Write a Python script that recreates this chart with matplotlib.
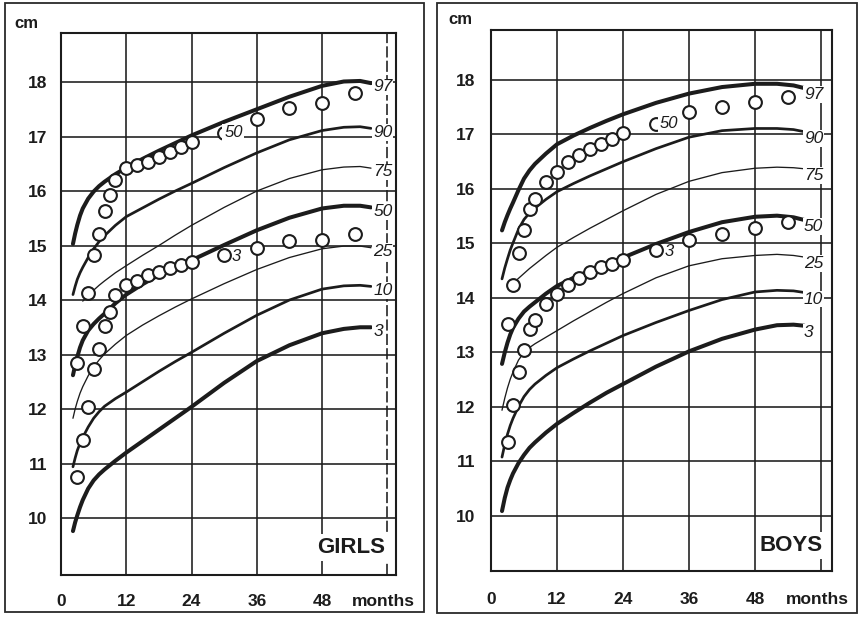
import numpy as np
import matplotlib
matplotlib.use("Agg")
import matplotlib.pyplot as plt
from matplotlib.patches import Rectangle

plt.rcParams['font.family'] = ['Liberation Sans', 'DejaVu Sans']

# ---------------- data ----------------
percentiles = ["97", "90", "75", "50", "25", "10", "3"]
nan = np.nan

girls_curve_months = [2.2, 2.6, 3, 3.5, 4, 5, 6, 7, 8, 10, 12, 15, 18, 21, 24, 30, 36, 42, 48, 52, 55, 57]
girls_p97 = [15.03, 15.22, 15.38, 15.55, 15.68, 15.86, 15.99, 16.09, 16.17, 16.31, 16.43, 16.59, 16.74, 16.88, 17.02, 17.27, 17.50, 17.73, 17.93, 18.01, 18.02, 17.98]
girls_p90 = [14.10, 14.25, 14.38, 14.50, 14.60, 14.78, 14.94, 15.07, 15.18, 15.37, 15.53, 15.69, 15.85, 16.00, 16.14, 16.43, 16.70, 16.94, 17.11, 17.17, 17.18, 17.15]
girls_p75 = [nan, nan, nan, nan, 13.98, 14.08, 14.18, 14.27, 14.35, 14.50, 14.63, 14.82, 15.00, 15.19, 15.37, 15.70, 16.00, 16.23, 16.39, 16.44, 16.45, 16.42]
girls_p50 = [12.62, 12.80, 12.96, 13.13, 13.26, 13.44, 13.56, 13.66, 13.75, 13.94, 14.10, 14.29, 14.46, 14.60, 14.73, 15.01, 15.28, 15.51, 15.68, 15.73, 15.73, 15.70]
girls_p25 = [11.83, 12.00, 12.14, 12.29, 12.41, 12.61, 12.77, 12.90, 13.01, 13.19, 13.35, 13.54, 13.71, 13.87, 14.02, 14.30, 14.56, 14.78, 14.94, 14.99, 14.99, 14.96]
girls_p10 = [10.94, 11.10, 11.24, 11.37, 11.48, 11.67, 11.83, 11.95, 12.05, 12.19, 12.31, 12.50, 12.69, 12.87, 13.04, 13.39, 13.72, 14.00, 14.20, 14.26, 14.27, 14.25]
girls_p3 = [9.76, 9.92, 10.05, 10.20, 10.33, 10.54, 10.69, 10.80, 10.89, 11.05, 11.20, 11.41, 11.62, 11.83, 12.04, 12.48, 12.88, 13.17, 13.39, 13.47, 13.50, 13.50]

boys_curve_months = [2, 2.5, 3, 3.5, 4, 5, 6, 7, 8, 10, 12, 15, 18, 21, 24, 30, 36, 42, 48, 52, 55, 57]
boys_p97 = [15.24, 15.39, 15.52, 15.64, 15.75, 15.98, 16.19, 16.34, 16.46, 16.65, 16.82, 16.98, 17.12, 17.25, 17.37, 17.58, 17.75, 17.87, 17.93, 17.93, 17.90, 17.85]
boys_p90 = [14.35, 14.55, 14.72, 14.88, 15.01, 15.26, 15.44, 15.56, 15.65, 15.81, 15.95, 16.10, 16.24, 16.37, 16.50, 16.74, 16.95, 17.07, 17.11, 17.11, 17.09, 17.05]
boys_p75 = [nan, nan, nan, nan, 14.27, 14.36, 14.45, 14.54, 14.62, 14.78, 14.93, 15.11, 15.28, 15.44, 15.60, 15.90, 16.14, 16.30, 16.38, 16.40, 16.39, 16.37]
boys_p50 = [12.79, 13.00, 13.18, 13.33, 13.45, 13.62, 13.75, 13.84, 13.92, 14.08, 14.22, 14.37, 14.50, 14.62, 14.74, 14.99, 15.21, 15.39, 15.49, 15.51, 15.48, 15.43]
boys_p25 = [11.94, 12.16, 12.35, 12.51, 12.64, 12.86, 13.00, 13.09, 13.16, 13.28, 13.40, 13.58, 13.75, 13.92, 14.08, 14.37, 14.59, 14.72, 14.78, 14.80, 14.78, 14.75]
boys_p10 = [11.08, 11.31, 11.50, 11.66, 11.79, 12.01, 12.19, 12.32, 12.42, 12.58, 12.72, 12.88, 13.03, 13.17, 13.31, 13.55, 13.77, 13.97, 14.11, 14.14, 14.13, 14.10]
boys_p3 = [10.09, 10.33, 10.52, 10.66, 10.78, 10.97, 11.12, 11.25, 11.35, 11.53, 11.69, 11.89, 12.08, 12.26, 12.42, 12.74, 13.02, 13.25, 13.42, 13.50, 13.51, 13.49]

girls_obs_months = [3, 4, 5, 6, 7, 8, 9, 10, 12, 14, 16, 18, 20, 22, 24, 30, 36, 42, 48, 54]
girls_obs_50 = [12.84, 13.52, 14.12, 14.82, 15.22, 15.63, 15.93, 16.20, 16.42, 16.48, 16.54, 16.63, 16.72, 16.81, 16.90, 17.07, 17.32, 17.52, 17.61, 17.80]
girls_obs_3 = [10.76, 11.44, 12.04, 12.73, 13.10, 13.52, 13.78, 14.09, 14.28, 14.35, 14.45, 14.51, 14.59, 14.64, 14.70, 14.82, 14.95, 15.09, 15.10, 15.22]

boys_obs_months = [3, 4, 5, 6, 7, 8, 10, 12, 14, 16, 18, 20, 22, 24, 30, 36, 42, 48, 54]
boys_obs_50 = [13.53, 14.24, 14.82, 15.25, 15.63, 15.81, 16.12, 16.32, 16.50, 16.62, 16.73, 16.83, 16.91, 17.02, 17.20, 17.42, 17.51, 17.60, 17.69]
boys_obs_3 = [11.35, 12.04, 12.64, 13.05, 13.43, 13.60, 13.89, 14.07, 14.24, 14.36, 14.47, 14.56, 14.62, 14.70, 14.88, 15.06, 15.18, 15.29, 15.40]

x_ticks = [0, 12, 24, 36, 48]
y_ticks = [10, 11, 12, 13, 14, 15, 16, 17, 18]

# ---------------- style ----------------
INK = "#1c1c1c"
W, H = 860, 618
widths = {"97": 2.9, "90": 1.95, "75": 0.95, "50": 2.9, "25": 0.95, "10": 1.95, "3": 2.9}

fig = plt.figure(figsize=(W / 100, H / 100), dpi=100)
fig.patch.set_facecolor("white")


def px_axes(l, t, r, b):
    return fig.add_axes([l / W, 1 - b / H, (r - l) / W, (b - t) / H])


# outer panel frames
for (l, t, r, b) in [(5, 3, 424, 612), (437, 3, 857, 613)]:
    fig.patches.append(Rectangle((l / W, 1 - b / H), (r - l) / W, (b - t) / H,
                                 transform=fig.transFigure, fill=False,
                                 edgecolor="#2a2a2a", lw=1.3, zorder=0))


def panel(ax, months, curves, obs_m, obs50, obs3, xmax, ymin, ymax, title,
          label_x, label_dy, s50_x, s3_x, ypad, xpad, dashed60, title_x):
    ax.set_xlim(0, xmax)
    ax.set_ylim(ymin, ymax)
    for v in x_ticks[1:]:
        ax.axvline(v, color=INK, lw=1.15, zorder=1)
    if dashed60:
        ax.axvline(60, color=INK, lw=1.15, ls=(0, (7, 2)), zorder=1)
    else:
        ax.axvline(60, color=INK, lw=1.15, zorder=1)
    for h in y_ticks:
        ax.axhline(h, color=INK, lw=1.15, zorder=1)
    for p, vals in zip(percentiles, curves):
        ax.plot(months, vals, color=INK, lw=widths[p], solid_capstyle="round",
                solid_joinstyle="round", zorder=3)
        last = [v for v in vals if not np.isnan(v)][-1]
        ax.text(label_x, last - label_dy, p, fontsize=12.5, style="italic",
                color=INK, ha="left", va="center", zorder=6,
                bbox=dict(boxstyle="square,pad=0.05", fc="white", ec="none"))
    ax.plot(obs_m, obs50, "o", ms=9.2, mfc="white", mec=INK, mew=1.5, zorder=4)
    ax.plot(obs_m, obs3, "o", ms=9.2, mfc="white", mec=INK, mew=1.5, zorder=4)
    i30 = obs_m.index(30)
    ax.text(s50_x, obs50[i30], "50", fontsize=12, style="italic", color=INK,
            ha="left", va="center", zorder=5,
            bbox=dict(boxstyle="square,pad=0.1", fc="white", ec="none"))
    ax.text(s3_x, obs3[i30] - 0.02, "3", fontsize=12, style="italic", color=INK,
            ha="left", va="center", zorder=5)
    ax.text(title_x, 9.46, title, fontsize=16, fontweight="bold", color=INK,
            ha="right", va="center", zorder=6,
            bbox=dict(boxstyle="square,pad=0.15", fc="white", ec="none"))
    ax.set_xticks(x_ticks + [59.3])
    ax.set_xticklabels([str(v) for v in x_ticks] + ["months"], fontsize=12.5,
                       fontweight="bold", color=INK)
    ax.set_yticks(y_ticks)
    ax.set_yticklabels([str(v) for v in y_ticks], fontsize=12.5,
                       fontweight="bold", color=INK)
    ax.tick_params(length=0, pad=xpad, axis="x")
    ax.tick_params(length=0, pad=ypad, axis="y")
    for s in ax.spines.values():
        s.set_color(INK)
        s.set_linewidth(1.5)
        s.set_zorder(7)
    ax.set_facecolor("white")


ax_g = px_axes(61, 33, 396, 575)
panel(ax_g, girls_curve_months,
      [girls_p97, girls_p90, girls_p75, girls_p50, girls_p25, girls_p10, girls_p3],
      girls_obs_months, girls_obs_50, girls_obs_3,
      xmax=61.6, ymin=8.954, ymax=18.9, title="GIRLS", label_x=57.4,
      label_dy=0.07, s50_x=30.0, s3_x=31.4, ypad=10, xpad=13.5,
      dashed60=True, title_x=59.6)

ax_b = px_axes(491, 30, 832, 571)
panel(ax_b, boys_curve_months,
      [boys_p97, boys_p90, boys_p75, boys_p50, boys_p25, boys_p10, boys_p3],
      boys_obs_months, boys_obs_50, boys_obs_3,
      xmax=62.0, ymin=8.99, ymax=18.917, title="BOYS", label_x=56.9,
      label_dy=0.12, s50_x=30.6, s3_x=31.6, ypad=11.5, xpad=15,
      dashed60=False, title_x=60.3)

fig.text(26 / W, 1 - 24 / H, "cm", fontsize=12, fontweight="bold", color=INK,
         ha="center", va="center")
fig.text(460 / W, 1 - 20 / H, "cm", fontsize=12, fontweight="bold", color=INK,
         ha="center", va="center")

fig.savefig("out.png", dpi=100, facecolor="white")
